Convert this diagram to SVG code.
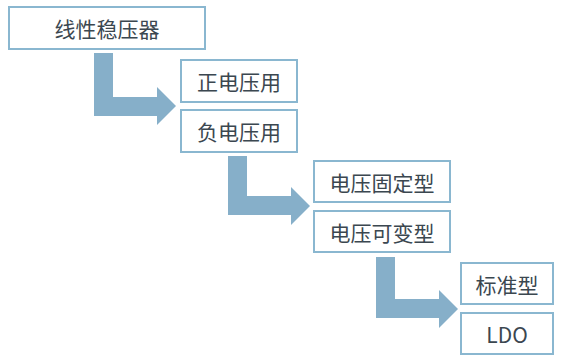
<svg xmlns="http://www.w3.org/2000/svg" width="562" height="361" viewBox="0 0 562 361">
<style>
.box{fill:#fff;stroke:#8ab7d0;stroke-width:2}
.t{font-family:"Noto Sans CJK SC","Noto Sans",sans-serif;font-size:21px;fill:#3b4750;text-anchor:middle;dominant-baseline:central}
.arr{fill:#86afc9}
</style>
<rect width="562" height="361" fill="#fff"/>
<g id="connectors">
<path class="arr" d="M94,53 H113 V97 H157 V87 L176,106 L157,125 V116 H94 Z"/>
<path class="arr" d="M228,156 H247 V196 H291 V187 L310,206 L291,225 V215 H228 Z"/>
<path class="arr" d="M376,257 H395 V299 H439 V290 L458,309 L439,328 V318 H376 Z"/>
</g>
<g id="n1"><rect class="box" x="9" y="7" width="196" height="42"/><text class="t" x="107" y="28">线性稳压器</text></g>
<g id="n2"><rect class="box" x="181" y="60" width="116" height="42"/><text class="t" x="239" y="81">正电压用</text></g>
<g id="n3"><rect class="box" x="181" y="110" width="116" height="42"/><text class="t" x="239" y="131">负电压用</text></g>
<g id="n4"><rect class="box" x="314" y="161" width="136" height="41"/><text class="t" x="382" y="181.5">电压固定型</text></g>
<g id="n5"><rect class="box" x="314" y="211" width="136" height="41"/><text class="t" x="382" y="231.5">电压可变型</text></g>
<g id="n6"><rect class="box" x="461" y="263" width="92" height="41"/><text class="t" x="507" y="283.5">标准型</text></g>
<g id="n7"><rect class="box" x="461" y="313" width="92" height="41"/><text class="t" x="507" y="333.5">LDO</text></g>
</svg>
